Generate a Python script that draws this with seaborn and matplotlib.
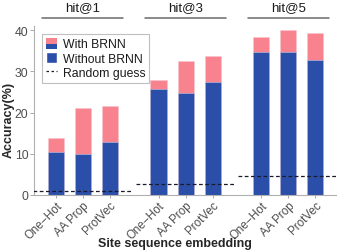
import matplotlib
matplotlib.use('Agg')
import matplotlib.pyplot as plt
import matplotlib.transforms as mtransforms
from matplotlib.legend_handler import HandlerBase
from matplotlib.patches import Rectangle, Patch
from matplotlib.lines import Line2D
import seaborn as sns
import pandas as pd

# ---- data ----
groups = ["hit@1", "hit@3", "hit@5"]
embeddings = ["One\u2212Hot", "AA Prop", "ProtVec"]
with_brnn = [13.8, 21.0, 21.5, 27.9, 32.5, 33.7, 38.4, 40.0, 39.3]
without_brnn = [10.5, 10.0, 12.9, 25.7, 24.7, 27.3, 34.6, 34.6, 32.8]
random_guess = [1.0, 2.7, 4.5]
yticks = [0, 10, 20, 30, 40]

PINK = "#F8838F"
BLUE = "#2B4FA8"

sns.set_theme(style="white")
plt.rcParams['font.family'] = ['Liberation Sans', 'DejaVu Sans']

group_step = 3.8
rows = []
for gi, g in enumerate(groups):
    for ei, e in enumerate(embeddings):
        k = gi * len(embeddings) + ei
        rows.append(dict(group=g, emb=e, pos=gi * group_step + ei,
                         with_brnn=with_brnn[k], without_brnn=without_brnn[k]))
df = pd.DataFrame(rows)

fig = plt.figure(figsize=(3.37, 2.51), dpi=100)
ax = fig.add_axes([34 / 337, 1 - 196 / 251, 303 / 337, 169 / 251])

sns.barplot(data=df, x="pos", y="with_brnn", native_scale=True, color=PINK,
            saturation=1, width=0.6, errorbar=None, ax=ax,
            edgecolor="#f4c4cc", linewidth=0.4)
sns.barplot(data=df, x="pos", y="without_brnn", native_scale=True, color=BLUE,
            saturation=1, width=0.6, errorbar=None, ax=ax,
            edgecolor="#b9c6ea", linewidth=0.4)

centers = [gi * group_step + (len(embeddings) - 1) / 2 for gi in range(len(groups))]
for c, rg in zip(centers, random_guess):
    ax.plot([c - 1.85, c + 1.85], [rg, rg], ls=(0, (3, 2)), color="#1a1a2a",
            lw=0.9, zorder=5)

trans = mtransforms.blended_transform_factory(ax.transData, ax.transAxes)
for c, g in zip(centers, groups):
    ax.plot([c - 1.5, c + 1.5], [1.047, 1.047], transform=trans, clip_on=False,
            color="#6a6a6a", lw=1.1)
    ax.text(c, 1.112, g, transform=trans, ha="center", va="center",
            fontsize=9.5, color="#1a1a1a")

ax.set_xlim(-0.81, 10.4)
ax.set_ylim(0, 41)
ax.set_xticks(df["pos"])
ax.set_xticklabels(df["emb"], rotation=45, ha="right", rotation_mode="anchor",
                   fontsize=8.4, color="#4D4D4D")
offset = mtransforms.ScaledTranslation(6 / 100, 0, fig.dpi_scale_trans)
for lbl in ax.get_xticklabels():
    lbl.set_transform(lbl.get_transform() + offset)
ax.set_yticks(yticks)
ax.set_yticklabels([str(t) for t in yticks], fontsize=8.8, color="#4D4D4D")
ax.tick_params(axis="y", left=True, length=3, width=0.6, color="#999999", pad=1)
ax.tick_params(axis="x", bottom=True, length=2, width=0.6, color="#999999", pad=1)

for s in ["top", "right"]:
    ax.spines[s].set_visible(False)
for s in ["left", "bottom"]:
    ax.spines[s].set_color("#b0b0b0")
    ax.spines[s].set_linewidth(0.8)

ax.set_ylabel("Accuracy(%)", fontweight="bold", fontsize=9, va="center")
ax.yaxis.set_label_coords(-0.083, 0.45)
ax.set_xlabel("Site sequence embedding", fontweight="bold", fontsize=9, va="center")
ax.xaxis.set_label_coords(0.465, -0.283)


class SplitHandler(HandlerBase):
    def create_artists(self, legend, orig_handle, xdescent, ydescent, width,
                       height, fontsize, trans):
        top = Rectangle((-xdescent, -ydescent + height * 0.45), width, height * 0.55,
                        fc=PINK, ec="none", transform=trans)
        bot = Rectangle((-xdescent, -ydescent), width, height * 0.45,
                        fc=BLUE, ec="none", transform=trans)
        return [top, bot]


h_with = Patch(facecolor=PINK)
h_without = Patch(facecolor=BLUE)
h_rand = Line2D([0], [0], ls=(0, (2, 2)), color="#1a1a2a", lw=0.9)
leg = ax.legend([h_with, h_without, h_rand], ["With BRNN", "Without BRNN", "Random guess"],
                handler_map={h_with: SplitHandler()},
                loc="upper left", bbox_to_anchor=(0.026, 0.953), fontsize=8.8,
                frameon=True, fancybox=False, edgecolor="#b0b0b0",
                handlelength=0.95, handleheight=1.0, handletextpad=0.45,
                labelspacing=0.15, borderpad=0.3, borderaxespad=0)
leg.get_frame().set_linewidth(0.8)
for t in leg.get_texts():
    t.set_color("#1a1a1a")

fig.savefig("out.png", dpi=100)
